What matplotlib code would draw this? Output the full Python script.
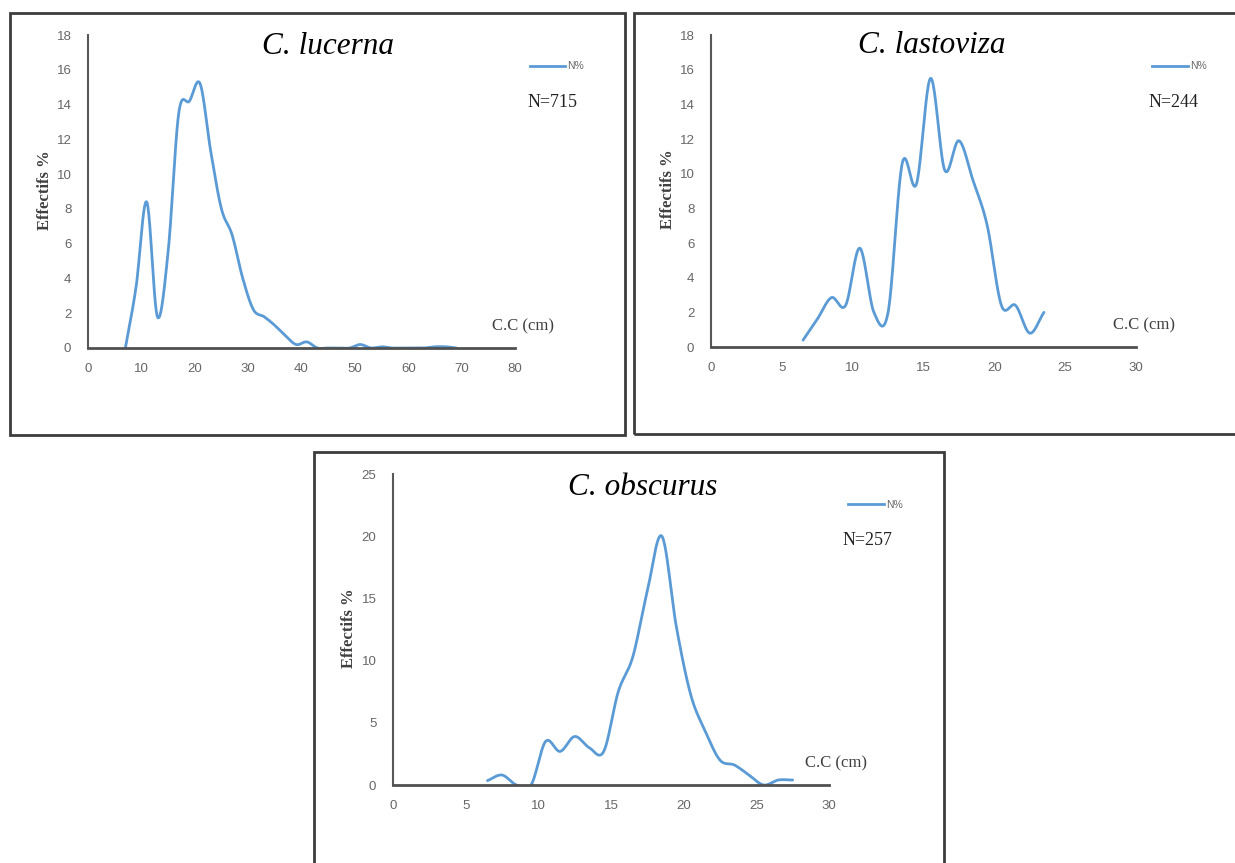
import numpy as np
import matplotlib.pyplot as plt
from matplotlib.patches import Rectangle
from matplotlib.lines import Line2D

# C. lucerna
luc_x = [7, 9, 11, 13, 15, 17, 19, 21, 23, 25, 27, 29, 31, 33, 35, 37, 39, 41, 43,
         45, 47, 49, 51, 53, 55, 57, 59, 61, 63, 65, 67, 69]
luc_y = [0, 3.5, 8.4, 1.8, 5.5, 13.5, 14.2, 15.2, 11.3, 8.0, 6.5, 4.0, 2.2, 1.8, 1.3, 0.7, 0.2, 0.35, 0,
         0, 0, 0, 0.2, 0, 0.07, 0, 0, 0, 0, 0.07, 0.07, 0]

# C. lastoviza
las_x = [6.5, 7.5, 8.5, 9.5, 10.5, 11.5, 12.5, 13.5, 14.5, 15.5, 16.5, 17.5, 18.5,
         19.5, 20.5, 21.5, 22.5, 23.5]
las_y = [0.4, 1.6, 2.85, 2.4, 5.7, 2.0, 2.0, 10.6, 9.4, 15.5, 10.2, 11.9, 9.6,
         7.0, 2.4, 2.4, 0.8, 2.0]

# C. obscurus
obs_x = [6.5, 7.5, 8.5, 9.5, 10.5, 11.5, 12.5, 13.5, 14.5, 15.5, 16.5, 17.5, 18.5,
         19.5, 20.5, 21.5, 22.5, 23.5, 24.5, 25.5, 26.5, 27.5]
obs_y = [0.35, 0.8, 0, 0, 3.5, 2.7, 3.9, 3.0, 2.7, 7.5, 10.3, 15.6, 20.0,
         12.7, 7.2, 4.3, 2.0, 1.6, 0.8, 0, 0.4, 0.4]

BLUE = '#5B9BD5'
GRAY = '#595959'


def smooth(x, y, n=24):
    # Catmull-Rom spline, close to Excel's "smoothed line"
    x = np.asarray(x, float)
    y = np.asarray(y, float)
    px = np.concatenate([[2 * x[0] - x[1]], x, [2 * x[-1] - x[-2]]])
    py = np.concatenate([[2 * y[0] - y[1]], y, [2 * y[-1] - y[-2]]])
    t = np.linspace(0, 1, n, endpoint=False)
    xs, ys = [], []
    for i in range(1, len(px) - 2):
        for p, out in ((px, xs), (py, ys)):
            p0, p1, p2, p3 = p[i - 1], p[i], p[i + 1], p[i + 2]
            out.append(0.5 * (2 * p1 + (-p0 + p2) * t + (2 * p0 - 5 * p1 + 4 * p2 - p3) * t ** 2
                              + (-p0 + 3 * p1 - 3 * p2 + p3) * t ** 3))
    return np.concatenate(xs + [[x[-1]]]), np.concatenate(ys + [[y[-1]]])


W, H = 1235, 863
fig = plt.figure(figsize=(W / 100, H / 100), dpi=100)


def frame(x0, y0, x1, y1):
    fig.patches.append(Rectangle((x0 / W, 1 - y1 / H), (x1 - x0) / W, (y1 - y0) / H,
                                 transform=fig.transFigure, fill=False,
                                 edgecolor='#3c3c3c', linewidth=2))


def panel(rect, x, y, xmax, xstep, ymax, ystep, title, title_xy, ntext, leg_x):
    l, t, r, b = rect
    ax = fig.add_axes([l / W, 1 - b / H, (r - l) / W, (b - t) / H])
    sx, sy = smooth(x, y)
    ax.plot(sx, sy, color=BLUE, linewidth=2, solid_capstyle='round')
    ax.set_xlim(0, xmax)
    ax.set_ylim(0, ymax)
    ax.set_xticks(np.arange(0, xmax + 1, xstep))
    ax.set_yticks(np.arange(0, ymax + 1, ystep))
    for s in ('top', 'right'):
        ax.spines[s].set_visible(False)
    ax.spines['left'].set_color(GRAY)
    ax.spines['left'].set_linewidth(1.5)
    ax.spines['bottom'].set_color('#505050')
    ax.spines['bottom'].set_linewidth(2)
    ax.tick_params(length=0, labelsize=9.5, labelcolor='#666666')
    ax.tick_params(axis='y', pad=12)
    ax.tick_params(axis='x', pad=11)
    for lab in ax.get_xticklabels() + ax.get_yticklabels():
        lab.set_fontfamily('Liberation Sans')
    ax.text(-0.1, 0.505, 'Effectifs %', transform=ax.transAxes, rotation=90,
            ha='center', va='center', fontfamily='Liberation Serif', fontweight='bold',
            fontsize=12, color='#404040')
    ax.text(title_xy[0], title_xy[1], title, transform=ax.transAxes, ha='center', va='center',
            fontfamily='Liberation Serif', fontstyle='italic', fontsize=22.5, color='black')
    ax.text(1.03, 0.785, ntext, transform=ax.transAxes, fontfamily='Liberation Serif',
            fontsize=13, va='center', ha='left', color='#222222')
    ax.text(0.946, 0.07, 'C.C (cm)', transform=ax.transAxes, fontfamily='Liberation Serif',
            fontsize=12, va='center', ha='left', color='#404040')
    leg = ax.legend(handles=[Line2D([], [], color=BLUE, linewidth=2)], labels=['N%'],
                    loc='center left', bbox_to_anchor=(leg_x, 0.90), frameon=False,
                    borderpad=0, borderaxespad=0, handlelength=3.4, handletextpad=0.2,
                    prop={'family': 'Liberation Sans', 'size': 7.5})
    for txt in leg.get_texts():
        txt.set_color('#666666')
    return ax


frame(10, 13, 625, 435)
frame(634, 13, 1245, 434)
frame(314, 452, 944, 875)

panel((88, 35, 515, 348), luc_x, luc_y, 80, 10, 18, 2, 'C. lucerna', (0.562, 0.962), 'N=715', 1.035)
panel((711, 35, 1136, 347), las_x, las_y, 30, 5, 18, 2, 'C. lastoviza', (0.52, 0.965), 'N=244', 1.038)
panel((393, 474, 829, 785), obs_x, obs_y, 30, 5, 25, 5, 'C. obscurus', (0.573, 0.955), 'N=257', 1.044)

fig.savefig('out.png', dpi=100)
